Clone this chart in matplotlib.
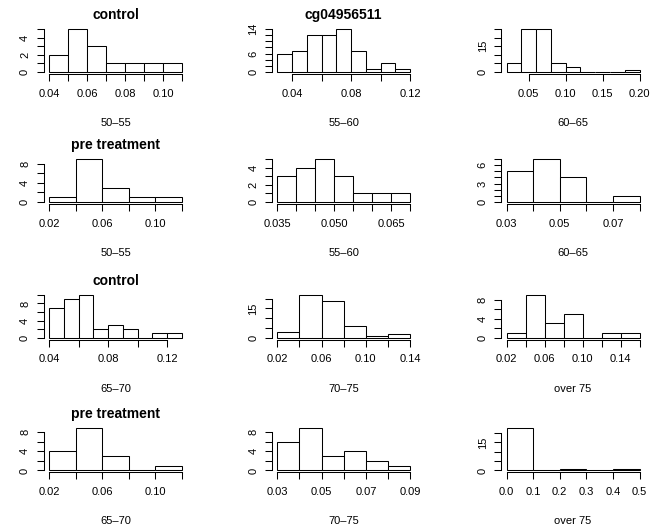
import numpy as np
import matplotlib
matplotlib.use("Agg")
import matplotlib.pyplot as plt

plt.rcParams["font.family"] = ["Liberation Sans", "DejaVu Sans"]

W, H = 662, 529

# ---- data: one entry per panel, row by row ------------------------------
TITLES = ["control", "cg04956511", "",
          "pre treatment", "", "",
          "control", "", "",
          "pre treatment", "", ""]
XLABELS = ["50–55", "55–60", "60–65",
           "50–55", "55–60", "60–65",
           "65–70", "70–75", "over 75",
           "65–70", "70–75", "over 75"]

BIN_START = [0.04, 0.03, 0.02,
             0.02, 0.035, 0.03,
             0.04, 0.02, 0.02,
             0.02, 0.03, 0.0]
BIN_WIDTH = [0.01, 0.01, 0.02,
             0.02, 0.005, 0.01,
             0.01, 0.02, 0.02,
             0.02, 0.01, 0.1]

COUNTS_50_55_CTRL = [2, 5, 3, 1, 1, 1, 1]
COUNTS_55_60_CTRL = [6, 7, 12, 12, 14, 7, 1, 3, 1]
COUNTS_60_65_CTRL = [5, 25, 25, 5, 3, 0, 0, 0, 1]
COUNTS_50_55_PRE = [1, 9, 3, 1, 1]
COUNTS_55_60_PRE = [3, 4, 5, 3, 1, 1, 1]
COUNTS_60_65_PRE = [5, 7, 4, 0, 1]
COUNTS_65_70_CTRL = [7, 9, 10, 2, 3, 2, 0, 1, 1]
COUNTS_70_75_CTRL = [3, 22, 19, 6, 1, 2]
COUNTS_75_CTRL = [1, 9, 3, 5, 0, 1, 1]
COUNTS_65_70_PRE = [4, 9, 3, 0, 1]
COUNTS_70_75_PRE = [6, 9, 3, 4, 2, 1]
COUNTS_75_PRE = [23, 0, 1, 0, 1]

COUNTS = [COUNTS_50_55_CTRL, COUNTS_55_60_CTRL, COUNTS_60_65_CTRL,
          COUNTS_50_55_PRE, COUNTS_55_60_PRE, COUNTS_60_65_PRE,
          COUNTS_65_70_CTRL, COUNTS_70_75_CTRL, COUNTS_75_CTRL,
          COUNTS_65_70_PRE, COUNTS_70_75_PRE, COUNTS_75_PRE]

# x ticks (first, last, step) and which ones carry labels
XTICKS = [(0.04, 0.11, 0.01), (0.04, 0.12, 0.02), (0.05, 0.20, 0.05),
          (0.02, 0.12, 0.02), (0.035, 0.070, 0.005), (0.03, 0.08, 0.01),
          (0.04, 0.12, 0.02), (0.02, 0.14, 0.02), (0.02, 0.16, 0.02),
          (0.02, 0.12, 0.02), (0.03, 0.09, 0.01), (0.0, 0.5, 0.1)]
XTICKLABELS = [["0.04", "", "0.06", "", "0.08", "", "0.10", ""],
               ["0.04", "", "0.08", "", "0.12"],
               ["0.05", "0.10", "0.15", "0.20"],
               ["0.02", "", "0.06", "", "0.10", ""],
               ["0.035", "", "", "0.050", "", "", "0.065", ""],
               ["0.03", "", "0.05", "", "0.07", ""],
               ["0.04", "", "0.08", "", "0.12"],
               ["0.02", "", "0.06", "", "0.10", "", "0.14"],
               ["0.02", "", "0.06", "", "0.10", "", "0.14", ""],
               ["0.02", "", "0.06", "", "0.10", ""],
               ["0.03", "", "0.05", "", "0.07", "", "0.09"],
               ["0.0", "0.1", "0.2", "0.3", "0.4", "0.5"]]
YTICKS = [(5, 1), (14, 2), (25, 5),
          (8, 2), (5, 1), (7, 1),
          (10, 2), (20, 5), (8, 2),
          (8, 2), (8, 2), (20, 5)]
YTICKLABELS = [["0", "", "2", "", "4", ""],
               ["0", "", "", "6", "", "", "", "14"],
               ["0", "", "", "15", "", ""],
               ["0", "", "4", "", "8"],
               ["0", "", "2", "", "4", ""],
               ["0", "", "", "3", "", "", "6", ""],
               ["0", "", "4", "", "8", ""],
               ["0", "", "", "15", ""],
               ["0", "", "4", "", "8"],
               ["0", "", "4", "", "8"],
               ["0", "", "4", "", "8"],
               ["0", "", "", "15", ""]]

COL_LEFT = [43.7, 271.9, 501.3]
PLOT_W = 143.6
ROW_BOTTOM = [73.7, 203.7, 339.5, 472.2]
PLOT_H = 46.4
LW = 0.75

fig = plt.figure(figsize=(W / 100, H / 100), dpi=100)
fig.patch.set_facecolor("white")

for i in range(12):
    r, c = divmod(i, 3)
    left, bottom = COL_LEFT[c], ROW_BOTTOM[r]
    ax = fig.add_axes([left / W, 1 - bottom / H, PLOT_W / W, PLOT_H / H])

    counts = COUNTS[i]
    edges = BIN_START[i] + BIN_WIDTH[i] * np.arange(len(counts) + 1)
    ax.bar(edges[:-1], counts, width=BIN_WIDTH[i], align="edge",
           facecolor="white", edgecolor="black", linewidth=LW)

    x0, x1 = edges[0], edges[-1]
    ymax = max(counts)
    ax.set_xlim(x0 - 0.04 * (x1 - x0), x1 + 0.04 * (x1 - x0))
    ax.set_ylim(-0.04 * ymax, ymax * 1.04)

    a, b, s = XTICKS[i]
    xt = np.round(np.arange(a, b + s / 2, s), 4)
    ax.set_xticks(xt)
    ax.set_xticklabels(XTICKLABELS[i])
    top, ys = YTICKS[i]
    yt = np.arange(0, top + ys / 2, ys)
    ax.set_yticks(yt)
    ax.set_yticklabels(YTICKLABELS[i], rotation=90, va="center")

    for side in ("top", "right"):
        ax.spines[side].set_visible(False)
    ax.spines["bottom"].set_bounds(xt[0], xt[-1])
    ax.spines["left"].set_bounds(0, yt[-1])
    for side in ("bottom", "left"):
        ax.spines[side].set_linewidth(LW)
    ax.tick_params(axis="both", length=4.8, width=LW, labelsize=8,
                   colors="black")
    ax.tick_params(axis="x", pad=6)
    ax.tick_params(axis="y", pad=5)
    ax.patch.set_visible(False)

    cx = (left + PLOT_W / 2) / W
    fig.text(cx, 1 - (bottom + 49.3) / H, XLABELS[i], ha="center",
             va="center", fontsize=8)
    if TITLES[i]:
        fig.text(cx, 1 - (bottom - PLOT_H - 12) / H, TITLES[i],
                 ha="center", va="center", fontsize=10, fontweight="bold")

fig.savefig("out.png", dpi=100, facecolor="white")
